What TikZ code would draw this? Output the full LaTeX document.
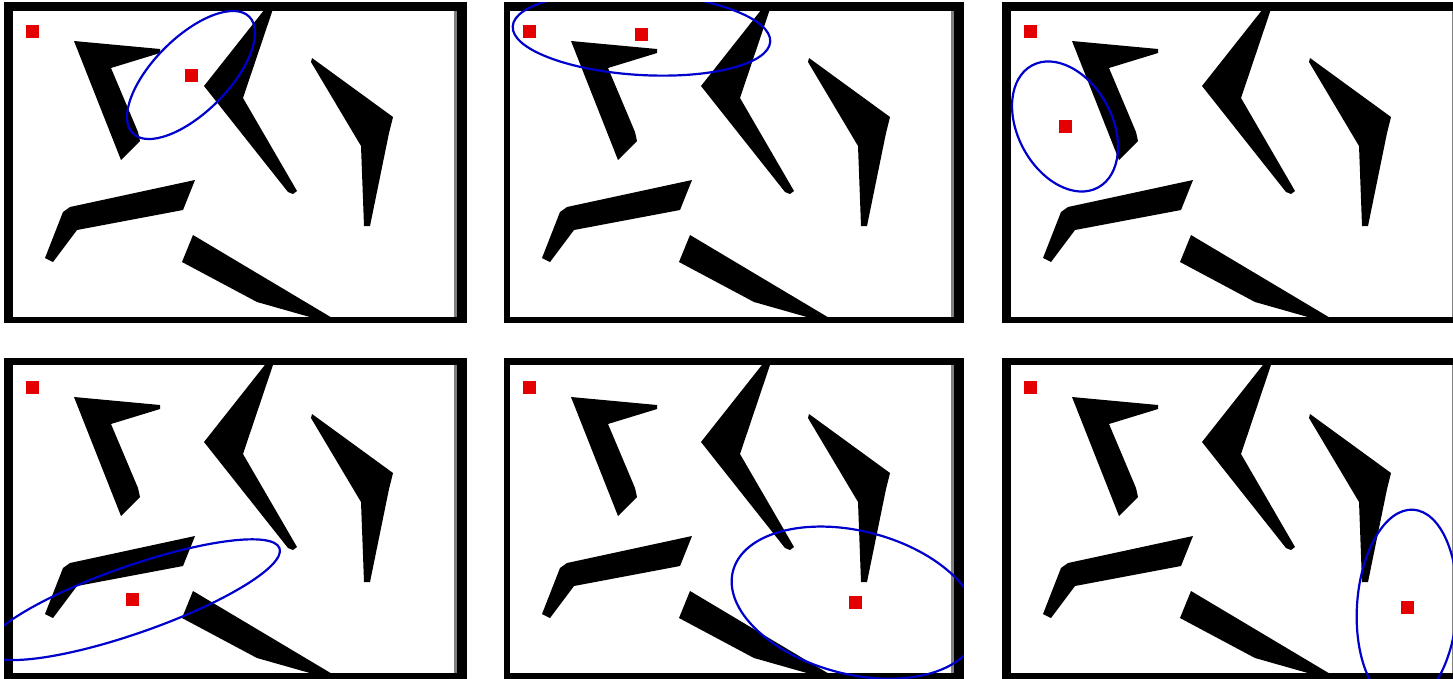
\documentclass[tikz,border=0pt]{standalone}
\begin{document}
\begin{tikzpicture}[x=1pt,y=-1pt]
\definecolor{redsq}{RGB}{228,0,0}
\definecolor{blueell}{RGB}{0,0,205}
\definecolor{edgegray}{RGB}{128,128,128}
\tikzset{
  blob/.style={fill=black},
  redbox/.style={rectangle, fill=redsq, draw=none, minimum size=13pt, inner sep=0pt},
  ellline/.style={draw=blueell, line width=2.2pt},
}
\useasboundingbox (0,0) rectangle (1453,678);
\clip (0,0) rectangle (1453,678);
\fill[white] (0,0) rectangle (1453,678);
\foreach \dx/\dy/\ol/\ot/\it/\cx/\cy/\ang/\ra/\rb [count=\i] in {
  0/0/4/2/11/191/75/45/82.4/37.5,
  497/0/504/2/11/641.5/34/-3.4/129/41,
  998/0/1002/2/11/1065/126.5/-61.6/69.4/47.1,
  0/356/4/358/365/132.8/599.7/19.3/155.5/33.5,
  497/356/504/358/365/855/602.7/-14.5/126/71.5,
  998/356/1002/358/365/1407/607.5/-3.7/50/98}
{
  % frame
  \fill[black] (\ol,\ot) rectangle (\dx+466.5,\dy+323);
  \fill[white] (\dx+13,\it) rectangle (\dx+457,\dy+317);
  \fill[edgegray] (\dx+454,\it) rectangle (\dx+457,\dy+317);
  % black shapes
  \begin{scope}[shift={(\dx,\dy)}]
    \clip (13,\it-\dy) rectangle (457,317);
    \fill[blob] (74,41) -- (160,49) -- (160,53) -- (111,68) -- (138,132) -- (140,141) -- (121,160) -- cycle;
    \fill[blob] (204,86) -- (272,0) -- (276,0) -- (243,98) -- (297,191) -- (293,194) -- (288,192) -- cycle;
    \fill[blob] (312,58) -- (393,117) -- (389,133) -- (370,226) -- (364,226) -- (361,146) -- (311,62) -- cycle;
    \fill[blob] (45,258) -- (63,212) -- (70,207) -- (195,180) -- (183,210) -- (77,230) -- (53,262) -- cycle;
    \fill[blob] (193,235) -- (182,262) -- (257,302) -- (338,325) -- (344,325) -- cycle;
  \end{scope}
  % red squares
  \node[redbox] (corner\i) at (\dx+32,\dy+31) {};
  \node[redbox] (centre\i) at (\cx,\cy) {};
  % blue ellipse
  \begin{scope}
    \clip (\ol,\ot) rectangle (\dx+466.5,\dy+323);
    \draw[ellline, rotate around={\ang:(centre\i.center)}] (centre\i.center) ellipse [x radius=\ra, y radius=\rb];
  \end{scope}
}
\end{tikzpicture}
\end{document}
